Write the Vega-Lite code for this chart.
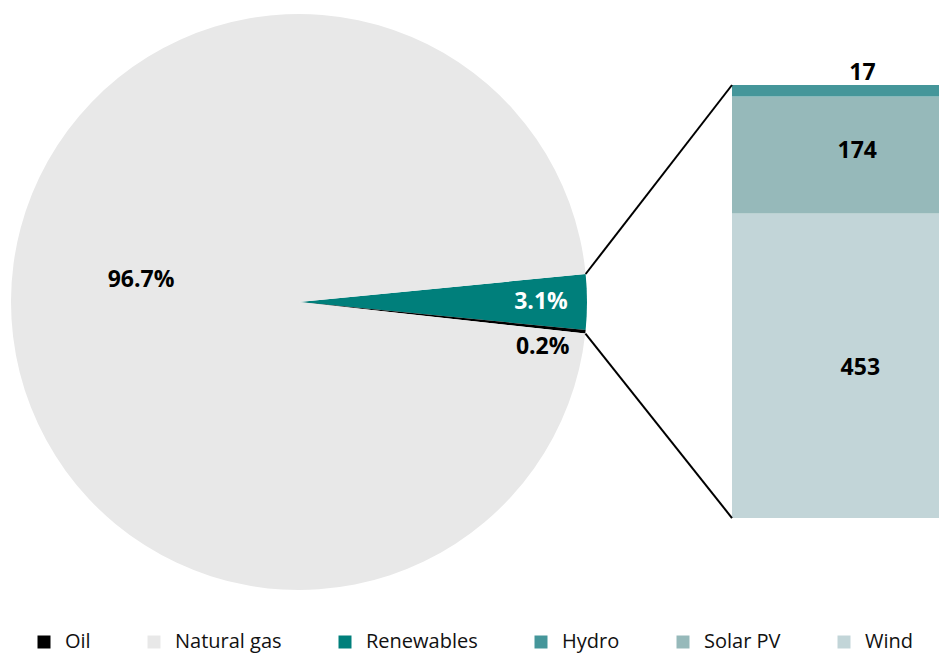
{
  "$schema": "https://vega.github.io/schema/vega-lite/v6.json",
  "padding": {"left": 11, "top": 14, "right": 0, "bottom": 4},
  "background": "white",
  "spacing": 145,
  "bounds": "flush",
  "config": {
    "view": {"stroke": null},
    "legend": {
      "orient": "none",
      "legendX": 23,
      "legendY": 618,
      "direction": "horizontal",
      "title": null,
      "symbolType": "square",
      "symbolSize": 169,
      "symbolStrokeWidth": 0,
      "labelFont": "Open Sans",
      "labelFontSize": 20,
      "labelColor": "#111111",
      "labelOffset": 11,
      "columnPadding": 53
    }
  },
  "hconcat": [
    {
      "width": 576,
      "height": 576,
      "data": {
        "values": [
          {"category": "Renewables", "share": 3.1, "label": "3.1%", "idx": 1},
          {"category": "Oil", "share": 0.2, "label": "0.2%", "idx": 2},
          {"category": "Natural gas", "share": 96.7, "label": "96.7%", "idx": 3}
        ]
      },
      "layer": [
        {
          "mark": {"type": "arc"},
          "encoding": {
            "theta": {"field": "share", "type": "quantitative", "stack": true, "scale": {"range": [1.4734, 7.7566]}},
            "order": {"field": "idx", "type": "quantitative"},
            "color": {
              "field": "category",
              "type": "nominal",
              "scale": {
                "domain": ["Oil", "Natural gas", "Renewables", "Hydro", "Solar PV", "Wind"],
                "range": ["#000000", "#e8e8e8", "#007f7b", "#45969a", "#96b9ba", "#c2d5d8"]
              }
            }
          }
        },
        {
          "mark": {"type": "text", "radius": 242, "font": "Open Sans", "fontSize": 23, "fontWeight": "bold", "color": "white"},
          "encoding": {
            "theta": {"field": "share", "type": "quantitative", "stack": true},
            "order": {"field": "idx", "type": "quantitative"},
            "text": {"condition": {"test": "datum.category === 'Renewables'", "field": "label"}, "value": ""}
          }
        },
        {
          "mark": {"type": "text", "radius": 245, "dy": 20, "font": "Open Sans", "fontSize": 23, "fontWeight": "bold", "color": "black"},
          "encoding": {
            "theta": {"field": "share", "type": "quantitative", "stack": true},
            "order": {"field": "idx", "type": "quantitative"},
            "text": {"condition": {"test": "datum.category === 'Oil'", "field": "label"}, "value": ""}
          }
        },
        {
          "mark": {"type": "text", "radius": 158, "dy": -21, "font": "Open Sans", "fontSize": 23, "fontWeight": "bold", "color": "black"},
          "encoding": {
            "theta": {"field": "share", "type": "quantitative", "stack": true},
            "order": {"field": "idx", "type": "quantitative"},
            "text": {"condition": {"test": "datum.category === 'Natural gas'", "field": "label"}, "value": ""}
          }
        }
      ]
    },
    {
      "width": 207,
      "height": 576,
      "data": {
        "values": [
          {"category": "Wind", "value": 453, "idx": 1},
          {"category": "Solar PV", "value": 174, "idx": 2},
          {"category": "Hydro", "value": 17, "idx": 3}
        ]
      },
      "transform": [
        {"stack": "value", "groupby": [], "sort": [{"field": "idx"}], "as": ["s0", "s1"]},
        {"calculate": "(datum.s0 + datum.s1) / 2", "as": "mid"}
      ],
      "layer": [
        {
          "mark": {"type": "rect"},
          "encoding": {
            "x": {"datum": 0, "type": "quantitative", "scale": {"domain": [0, 1], "nice": false, "zero": false}, "axis": null},
            "x2": {"datum": 1},
            "y": {"field": "s0", "type": "quantitative", "scale": {"domain": [-107.08, 749.6], "nice": false, "zero": false}, "axis": null},
            "y2": {"field": "s1"},
            "color": {
              "field": "category",
              "type": "nominal",
              "scale": {
                "domain": ["Oil", "Natural gas", "Renewables", "Hydro", "Solar PV", "Wind"],
                "range": ["#000000", "#e8e8e8", "#007f7b", "#45969a", "#96b9ba", "#c2d5d8"]
              }
            }
          }
        },
        {
          "mark": {"type": "text", "dy": 2, "font": "Open Sans", "fontSize": 23, "fontWeight": "bold", "color": "black"},
          "encoding": {
            "x": {"datum": 0.62, "type": "quantitative"},
            "y": {"field": "mid", "type": "quantitative"},
            "text": {"condition": {"test": "datum.category === 'Wind'", "field": "value"}, "value": ""}
          }
        },
        {
          "mark": {"type": "text", "dy": -4, "font": "Open Sans", "fontSize": 23, "fontWeight": "bold", "color": "black"},
          "encoding": {
            "x": {"datum": 0.605, "type": "quantitative"},
            "y": {"field": "mid", "type": "quantitative"},
            "text": {"condition": {"test": "datum.category === 'Solar PV'", "field": "value"}, "value": ""}
          }
        },
        {
          "mark": {"type": "text", "dy": -5, "baseline": "alphabetic", "font": "Open Sans", "fontSize": 23, "fontWeight": "bold", "color": "black"},
          "encoding": {
            "x": {"datum": 0.63, "type": "quantitative"},
            "y": {"field": "s1", "type": "quantitative"},
            "text": {"condition": {"test": "datum.category === 'Hydro'", "field": "value"}, "value": ""}
          }
        },
        {
          "data": {"values": [{"edge": "top"}]},
          "mark": {"type": "rule", "color": "black", "strokeWidth": 2, "clip": false},
          "encoding": {
            "x": {"datum": -0.707, "type": "quantitative"},
            "y": {"datum": 362.9, "type": "quantitative"},
            "x2": {"datum": 0},
            "y2": {"datum": 644}
          }
        },
        {
          "data": {"values": [{"edge": "bottom"}]},
          "mark": {"type": "rule", "color": "black", "strokeWidth": 2, "clip": false},
          "encoding": {
            "x": {"datum": -0.708, "type": "quantitative"},
            "y": {"datum": 274.3, "type": "quantitative"},
            "x2": {"datum": 0},
            "y2": {"datum": 0}
          }
        }
      ]
    }
  ]
}
